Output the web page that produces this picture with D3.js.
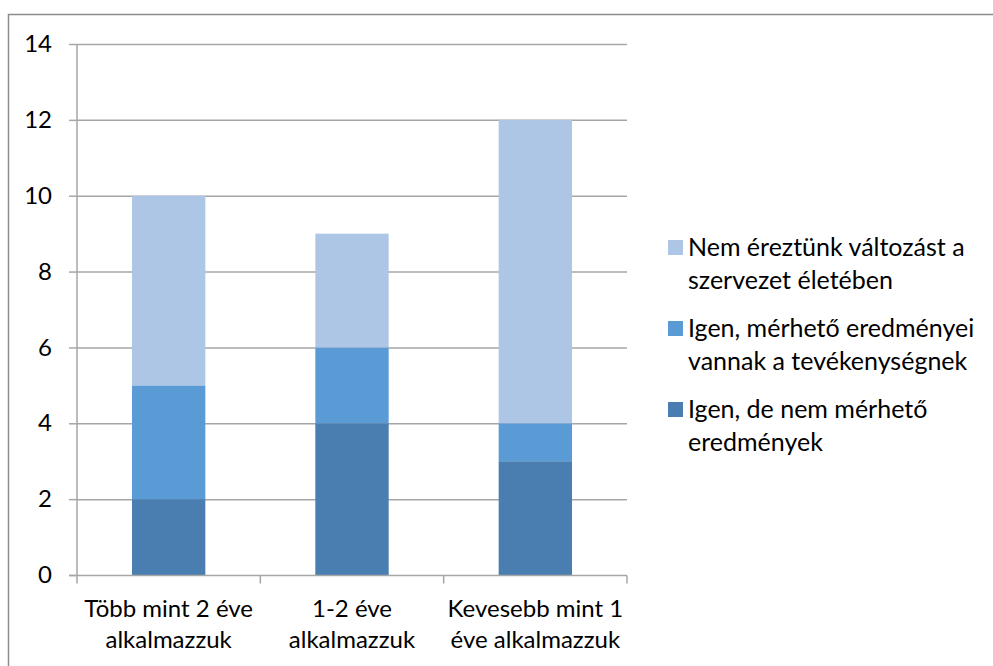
<!DOCTYPE html>
<html>
<head>
<meta charset="utf-8">
<script src="https://cdn.jsdelivr.net/npm/d3@7"></script>
<style>
  html, body { margin: 0; padding: 0; background: #fff; }
  svg { display: block; }
  text { font-family: Lato, "Open Sans", sans-serif; fill: #000; }
</style>
</head>
<body>
<svg id="chart" width="993" height="666"></svg>
<script>
// Categories (x axis), two-line labels
const categories = ["Több mint 2 éve alkalmazzuk", "1-2 éve alkalmazzuk", "Kevesebb mint 1 éve alkalmazzuk"];
const categoryLines = [["Több mint 2 éve", "alkalmazzuk"], ["1-2 éve", "alkalmazzuk"], ["Kevesebb mint 1", "éve alkalmazzuk"]];

// Stacked series, bottom to top
const seriesNames = ["Igen, de nem mérhető eredmények", "Igen, mérhető eredményei vannak a tevékenységnek", "Nem éreztünk változást a szervezet életében"];
const seriesLegendLines = [["Igen, de nem mérhető", "eredmények"], ["Igen, mérhető eredményei", "vannak a tevékenységnek"], ["Nem éreztünk változást a", "szervezet életében"]];
const notMeasurable = [2, 4, 3];
const measurable = [3, 2, 1];
const noChange = [5, 3, 8];
const seriesColors = ["#4a7eb1", "#5b9bd5", "#adc6e5"];

const yTicks = [0, 2, 4, 6, 8, 10, 12, 14];

const FS = 24;
const LEGEND_FS = 25;
const svg = d3.select("#chart");

// outer chart frame
svg.append("rect")
  .attr("x", 8.5).attr("y", 14.5)
  .attr("width", 1100).attr("height", 800)
  .attr("fill", "none").attr("stroke", "#8c8c8c").attr("stroke-width", 1.5);

const plot = { left: 77, right: 627, top: 44, bottom: 575 };

const x = d3.scaleBand().domain(categories).range([plot.left, plot.right]).paddingInner(0.6).paddingOuter(0.3);
const y = d3.scaleLinear().domain([0, 14]).range([plot.bottom, plot.top]);

const rows = categories.map((c, i) => ({ cat: c, s0: notMeasurable[i], s1: measurable[i], s2: noChange[i] }));
const stack = d3.stack().keys(["s0", "s1", "s2"]);
const stacked = stack(rows);

// gridlines
svg.append("g").selectAll("line").data(yTicks.filter(t => t > 0)).join("line")
  .attr("x1", plot.left).attr("x2", plot.right)
  .attr("y1", d => y(d) + 0.5).attr("y2", d => y(d) + 0.5)
  .attr("stroke", "#a6a6a6").attr("stroke-width", 1.5);

// bars
svg.append("g").selectAll("g").data(stacked).join("g")
  .attr("fill", (d, i) => seriesColors[i])
  .selectAll("rect").data(d => d).join("rect")
  .attr("x", d => x(d.data.cat))
  .attr("width", x.bandwidth())
  .attr("y", d => y(d[1]))
  .attr("height", d => y(d[0]) - y(d[1]));

// y axis
const yAxis = svg.append("g").attr("transform", `translate(${plot.left},0)`)
  .call(d3.axisLeft(y).tickValues(yTicks).tickSize(8).tickPadding(17).tickFormat(d3.format("d")));
yAxis.select(".domain").attr("stroke", "#a6a6a6").attr("stroke-width", 1.5).attr("d", `M0,${plot.top}V${plot.bottom + 0.5}`);
yAxis.selectAll(".tick line").attr("stroke", "#a6a6a6").attr("stroke-width", 1.5);
yAxis.selectAll(".tick text").attr("font-size", FS).attr("font-family", "Lato, sans-serif").attr("fill", "#000");

// x axis
const xAxis = svg.append("g").attr("transform", `translate(0,${plot.bottom + 0.5})`)
  .call(d3.axisBottom(x).tickSize(0).tickFormat(""));
xAxis.select(".domain").attr("stroke", "#a6a6a6").attr("stroke-width", 1.5).attr("d", `M${plot.left - 8},0H${plot.right}`);
// category separators
const edges = [plot.left, plot.left + (plot.right - plot.left) / 3, plot.left + 2 * (plot.right - plot.left) / 3, plot.right];
xAxis.selectAll(".sep").data(edges).join("line").attr("class", "sep")
  .attr("x1", d => d).attr("x2", d => d).attr("y1", 0).attr("y2", 8)
  .attr("stroke", "#a6a6a6").attr("stroke-width", 1.5);

// category labels
svg.append("g").selectAll("text").data(categories).join("text")
  .attr("text-anchor", "middle")
  .attr("font-size", FS)
  .attr("x", d => x(d) + x.bandwidth() / 2)
  .attr("y", 617)
  .each(function(d, i) {
    d3.select(this).selectAll("tspan").data(categoryLines[i]).join("tspan")
      .attr("x", x(d) + x.bandwidth() / 2)
      .attr("dy", (t, j) => j === 0 ? 0 : 31)
      .text(t => t);
  });

// legend (top series first)
const legendOrder = [2, 1, 0];
const legend = svg.append("g").selectAll("g").data(legendOrder).join("g")
  .attr("transform", (d, i) => `translate(668,${240 + i * 81})`);
legend.append("rect").attr("width", 15).attr("height", 15).attr("y", 0)
  .attr("fill", d => seriesColors[d]);
legend.append("text").attr("font-size", LEGEND_FS).attr("x", 20).attr("y", 16)
  .each(function(d) {
    d3.select(this).selectAll("tspan").data(seriesLegendLines[d]).join("tspan")
      .attr("x", 20).attr("dy", (t, j) => j === 0 ? 0 : 33)
      .text(t => t);
  });
</script>
</body>
</html>
